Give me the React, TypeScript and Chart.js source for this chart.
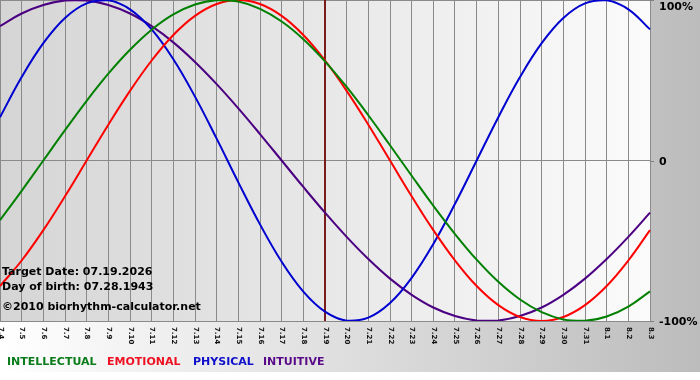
import { useEffect, useRef } from "react";
import { Chart, registerables } from "chart.js";

Chart.register(...registerables);

const dayLabels = [
  "7.4", "7.5", "7.6", "7.7", "7.8", "7.9", "7.10", "7.11", "7.12", "7.13",
  "7.14", "7.15", "7.16", "7.17", "7.18", "7.19", "7.20", "7.21", "7.22", "7.23",
  "7.24", "7.25", "7.26", "7.27", "7.28", "7.29", "7.30", "7.31", "8.1", "8.2", "8.3",
];

const intellectual = [
  -37.2, -18.9, 0, 18.9, 37.2, 54.1, 69.0, 81.5, 91.0, 97.2,
  99.9, 99.0, 94.5, 86.6, 75.6, 61.8, 45.8, 28.2, 9.5, -9.5,
  -28.2, -45.8, -61.8, -75.6, -86.6, -94.5, -99.0, -99.9, -97.2, -91.0, -81.5,
];

const emotional = [
  -78.2, -62.3, -43.4, -22.3, 0, 22.3, 43.4, 62.3, 78.2, 90.1,
  97.5, 100, 97.5, 90.1, 78.2, 62.3, 43.4, 22.3, 0, -22.3,
  -43.4, -62.3, -78.2, -90.1, -97.5, -100, -97.5, -90.1, -78.2, -62.3, -43.4,
];

const physical = [
  27.0, 52.0, 73.1, 88.8, 97.9, 99.8, 94.2, 81.7, 63.1, 39.8,
  13.6, -13.6, -39.8, -63.1, -81.7, -94.2, -99.8, -97.9, -88.8, -73.1,
  -52.0, -27.0, 0, 27.0, 52.0, 73.1, 88.8, 97.9, 99.8, 94.2, 81.7,
];

const intuitive = [
  83.7, 91.6, 96.9, 99.7, 99.7, 96.9, 91.6, 83.7, 73.6, 61.4,
  47.6, 32.5, 16.5, 0, -16.5, -32.5, -47.6, -61.4, -73.6, -83.7,
  -91.6, -96.9, -99.7, -99.7, -96.9, -91.6, -83.7, -73.6, -61.4, -47.6, -32.5,
];

const seriesNames = ["INTELLECTUAL", "EMOTIONAL", "PHYSICAL", "INTUITIVE"];
const seriesColors = ["#008000", "#ff0000", "#0000d0", "#4b0082"];
const legendColors = ["#0a7d1a", "#ee1122", "#1010cc", "#5a0a88"];
const yTicks = [100, 0, -100];
const targetLabel = "7.19";
const infoLines = [
  "Target Date: 07.19.2026",
  "Day of birth: 07.28.1943",
  "©2010 biorhythm-calculator.net",
];

const FONT = '"DejaVu Sans", Verdana, sans-serif';

const decor = {
  id: "decor",
  beforeDraw(chart: any) {
    const { ctx, width, height, chartArea: ca } = chart;
    ctx.save();
    ctx.fillStyle = "#ffffff";
    ctx.fillRect(0, 0, width, height);
    const g = ctx.createLinearGradient(0, 0, width, 0);
    g.addColorStop(0, "#ffffff");
    g.addColorStop(1, "#bcbcbc");
    ctx.fillStyle = g;
    ctx.fillRect(0, 0, width, 372);
    const g2 = ctx.createLinearGradient(ca.left, 0, ca.right, 0);
    g2.addColorStop(0, "#d5d5d5");
    g2.addColorStop(1, "#fbfbfb");
    ctx.fillStyle = g2;
    ctx.fillRect(ca.left, ca.top, ca.right - ca.left, ca.bottom - ca.top);
    ctx.restore();
  },
  beforeDatasetsDraw(chart: any) {
    const { ctx, chartArea: ca } = chart;
    const xs = chart.scales.x;
    const idx = chart.data.labels.indexOf(targetLabel);
    const x = Math.round(xs.getPixelForValue(idx));
    ctx.save();
    ctx.strokeStyle = "#7a1c1c";
    ctx.lineWidth = 2;
    ctx.beginPath();
    ctx.moveTo(x, ca.top);
    ctx.lineTo(x, ca.bottom);
    ctx.stroke();
    ctx.restore();
  },
  afterDatasetsDraw(chart: any) {
    const { ctx } = chart;
    ctx.save();
    ctx.fillStyle = "#000";
    ctx.font = `bold 11px ${FONT}`;
    ctx.textBaseline = "middle";
    ctx.textAlign = "left";
    ctx.fillText(infoLines[0], 2, 272);
    ctx.fillText(infoLines[1], 2, 287);
    ctx.fillText(infoLines[2], 2, 307);
    ctx.restore();
  },
  afterDraw(chart: any) {
    const { ctx, chartArea: ca } = chart;
    const xs = chart.scales.x;
    const ys = chart.scales.y;
    ctx.save();
    // x labels rotated clockwise
    ctx.fillStyle = "#111";
    ctx.font = `bold 7px ${FONT}`;
    ctx.textAlign = "left";
    ctx.textBaseline = "middle";
    chart.data.labels.forEach((lab: string, i: number) => {
      const x = xs.getPixelForValue(i);
      ctx.save();
      ctx.translate(x + 0.5, ca.bottom + 6);
      ctx.rotate(Math.PI / 2);
      ctx.fillText(lab, 0, 0);
      ctx.restore();
    });
    // y labels + tick marks
    ctx.strokeStyle = "#808080";
    ctx.lineWidth = 1;
    ctx.font = `bold 11px ${FONT}`;
    ctx.fillStyle = "#000";
    yTicks.forEach((v) => {
      const y = Math.round(ys.getPixelForValue(v));
      ctx.beginPath();
      ctx.moveTo(ca.right, y + 0.5);
      ctx.lineTo(ca.right + 4, y + 0.5);
      ctx.stroke();
      const txt = v === 0 ? "0" : `${v}%`;
      ctx.fillText(txt, ca.right + 9, Math.max(y + 1, 7));
    });
    // legend
    ctx.font = `bold 11px ${FONT}`;
    const lx = [7, 107, 193, 263];
    chart.data.datasets.forEach((ds: any, i: number) => {
      ctx.fillStyle = legendColors[i];
      ctx.fillText(ds.label, lx[i], 362);
    });
    ctx.restore();
  },
};

export default function App() {
  const ref = useRef<HTMLCanvasElement | null>(null);
  useEffect(() => {
    if (!ref.current) return;
    const series = [intellectual, emotional, physical, intuitive];
    const chart = new Chart(ref.current, {
      type: "line",
      data: {
        labels: dayLabels,
        datasets: series.map((d, i) => ({
          label: seriesNames[i],
          data: d,
          borderColor: seriesColors[i],
          borderWidth: 2,
          pointRadius: 0,
          tension: 0.4,
          fill: false,
        })),
      },
      options: {
        responsive: false,
        animation: false,
        events: [],
        layout: { padding: { left: 0, top: 0, right: 50, bottom: 59 }, autoPadding: false },
        plugins: { legend: { display: false }, tooltip: { enabled: false }, title: { display: false } },
        scales: {
          x: {
            type: "category",
            offset: false,
            ticks: { display: false },
            grid: { color: "#8a8a8a", lineWidth: 1, drawTicks: false },
            border: { display: false },
          },
          y: {
            position: "right",
            min: -100,
            max: 100,
            ticks: { display: false, stepSize: 100 },
            grid: { color: "#8a8a8a", lineWidth: 1, drawTicks: false },
            border: { display: false },
          },
        },
      },
      plugins: [decor],
    });
    return () => chart.destroy();
  }, []);
  return (
    <div style={{ position: "fixed", left: 0, top: 0, width: 700, height: 380 }}>
      <canvas ref={ref} width={700} height={380} style={{ display: "block", width: 700, height: 380 }} />
    </div>
  );
}
